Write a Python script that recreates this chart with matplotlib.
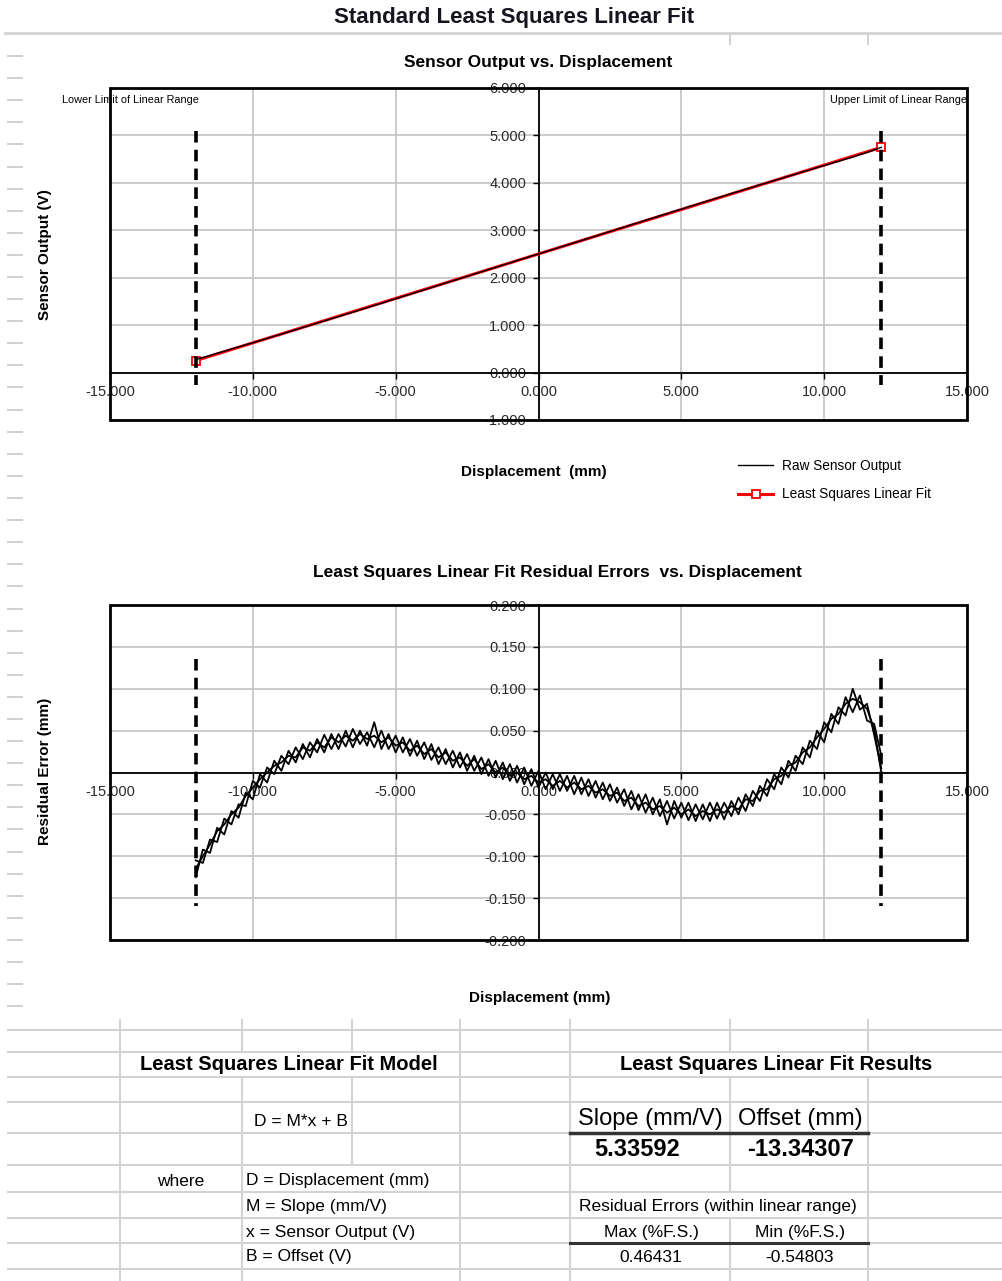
import numpy as np
import matplotlib
matplotlib.use("Agg")
import matplotlib.pyplot as plt
from matplotlib import font_manager
from matplotlib.lines import Line2D
from matplotlib.patches import Rectangle
from matplotlib.ticker import FormatStrFormatter

# ---------------- data ----------------
slope_mm_per_v = 5.33592
offset_mm = -13.34307
resid_max_pct = "0.46431"
resid_min_pct = "-0.54803"
lower_limit_mm = -12.0
upper_limit_mm = 12.0

displacement_mm = np.arange(-12.0, 12.001, 0.25)

residual_sweep_a = [
    -0.105, -0.108, -0.080, -0.083,
    -0.055, -0.062, -0.038, -0.040,
    -0.010, -0.018, 0.006, -0.002,
    0.020, 0.010, 0.030, 0.016,
    0.036, 0.024, 0.045, 0.028,
    0.046, 0.031, 0.052, 0.034,
    0.048, 0.030, 0.050, 0.028,
    0.044, 0.024, 0.040, 0.020,
    0.036, 0.015, 0.030, 0.010,
    0.026, 0.006, 0.022, 0.002,
    0.018, -0.004, 0.014, -0.008,
    0.010, -0.012, 0.006, -0.016,
    0.002, -0.020, -0.002, -0.022,
    -0.004, -0.026, -0.006, -0.028,
    -0.010, -0.032, -0.014, -0.036,
    -0.020, -0.044, -0.026, -0.048,
    -0.030, -0.052, -0.034, -0.055,
    -0.036, -0.057, -0.038, -0.056,
    -0.036, -0.055, -0.036, -0.052,
    -0.030, -0.046, -0.022, -0.034,
    -0.008, -0.020, 0.006, -0.006,
    0.020, 0.010, 0.038, 0.028,
    0.060, 0.048, 0.078, 0.068,
    0.100, 0.075, 0.082, 0.045,
    0.005,
]
residual_sweep_b = [
    -0.125, -0.092, -0.096, -0.066,
    -0.074, -0.046, -0.054, -0.024,
    -0.032, -0.002, -0.012, 0.014,
    0.002, 0.026, 0.012, 0.034,
    0.018, 0.040, 0.024, 0.046,
    0.028, 0.050, 0.030, 0.050,
    0.032, 0.060, 0.028, 0.046,
    0.024, 0.042, 0.020, 0.038,
    0.016, 0.034, 0.010, 0.028,
    0.006, 0.024, 0.002, 0.020,
    -0.002, 0.016, -0.006, 0.012,
    -0.010, 0.008, -0.014, 0.004,
    -0.018, 0.000, -0.020, -0.002,
    -0.022, -0.004, -0.026, -0.008,
    -0.030, -0.012, -0.034, -0.018,
    -0.040, -0.022, -0.045, -0.026,
    -0.050, -0.032, -0.062, -0.034,
    -0.054, -0.036, -0.058, -0.038,
    -0.058, -0.036, -0.056, -0.034,
    -0.050, -0.026, -0.040, -0.016,
    -0.028, -0.002, -0.014, 0.014,
    0.002, 0.030, 0.018, 0.050,
    0.036, 0.070, 0.058, 0.090,
    0.072, 0.092, 0.062, 0.058,
    0.020,
]
residual_sweep_c = [
    -0.115, -0.100, -0.086, -0.070,
    -0.062, -0.050, -0.042, -0.028,
    -0.018, -0.008, 0.000, 0.008,
    0.012, 0.020, 0.018, 0.030,
    0.026, 0.036, 0.030, 0.042,
    0.036, 0.044, 0.038, 0.046,
    0.040, 0.044, 0.036, 0.042,
    0.032, 0.036, 0.026, 0.032,
    0.022, 0.028, 0.018, 0.024,
    0.014, 0.018, 0.008, 0.016,
    0.004, 0.010, 0.000, 0.006,
    -0.004, 0.000, -0.008, -0.004,
    -0.012, -0.008, -0.016, -0.010,
    -0.018, -0.012, -0.020, -0.016,
    -0.024, -0.020, -0.028, -0.024,
    -0.034, -0.030, -0.040, -0.036,
    -0.044, -0.040, -0.048, -0.042,
    -0.050, -0.044, -0.052, -0.046,
    -0.050, -0.044, -0.048, -0.040,
    -0.044, -0.032, -0.034, -0.022,
    -0.020, -0.008, -0.004, 0.008,
    0.012, 0.024, 0.030, 0.042,
    0.052, 0.064, 0.070, 0.082,
    0.088, 0.084, 0.076, 0.052,
    0.000,
]
residual_sweeps = [residual_sweep_a, residual_sweep_b, residual_sweep_c]

x_ticks = [-15, -10, -5, 0, 5, 10, 15]
volt_ticks = [-1, 0, 1, 2, 3, 4, 5, 6]
resid_ticks = [-0.2, -0.15, -0.1, -0.05, 0.0, 0.05, 0.1, 0.15, 0.2]
limit_span_volt = [5.10, -0.27]
limit_span_resid = [0.136, -0.159]

# ---------------- fonts ----------------
names = {f.name for f in font_manager.fontManager.ttflist}
HAS_NARROW = "Liberation Sans Narrow" in names
BASE = ["Liberation Sans", "DejaVu Sans"]
NARROW = (["Liberation Sans Narrow"] + BASE) if HAS_NARROW else BASE
plt.rcParams["font.family"] = BASE
plt.rcParams["axes.unicode_minus"] = False

W, H = 1002, 1281
fig = plt.figure(figsize=(W / 100, H / 100), dpi=100)
fig.patch.set_facecolor("white")


def fx(px):
    return px / W


def fy(py):
    return 1 - py / H


def hline(y, x0, x1, color="#d3d3d3", lw=1.5):
    fig.add_artist(Line2D([fx(x0), fx(x1)], [fy(y), fy(y)], color=color, lw=lw))


def vline(x, y0, y1, color="#d3d3d3", lw=1.5):
    fig.add_artist(Line2D([fx(x), fx(x)], [fy(y0), fy(y1)], color=color, lw=lw))


# ---------------- spreadsheet background ----------------
hline(33, 5, 1002, lw=2)
vline(730, 35, 44)
vline(868, 35, 44)
for yy in np.arange(56, 1010, 22.1):
    hline(yy, 8, 22, color="#d0d0d0", lw=1.4)

# ---------------- titles ----------------
fig.text(fx(514), fy(18), "Standard Least Squares Linear Fit", ha="center", va="center",
         family=NARROW, weight="bold", fontsize=17 if HAS_NARROW else 16, color="#151520")
fig.text(fx(538), fy(63), "Sensor Output vs. Displacement", ha="center", va="center",
         family=NARROW, weight="bold", fontsize=13 if HAS_NARROW else 12.5)
fig.text(fx(557), fy(572), "Least Squares Linear Fit Residual Errors  vs. Displacement",
         ha="center", va="center", family=NARROW, weight="bold",
         fontsize=13 if HAS_NARROW else 12.5)


def style_axes(ax, yticks, ylim):
    ax.set_xlim(-15, 15)
    ax.set_ylim(*ylim)
    ax.set_xticks(x_ticks)
    ax.set_yticks(yticks)
    ax.xaxis.set_major_formatter(FormatStrFormatter("%.3f"))
    ax.yaxis.set_major_formatter(FormatStrFormatter("%.3f"))
    ax.spines["left"].set_position(("data", 0))
    ax.spines["bottom"].set_position(("data", 0))
    ax.spines["top"].set_visible(False)
    ax.spines["right"].set_visible(False)
    for s in ("left", "bottom"):
        ax.spines[s].set_linewidth(1.3)
        ax.spines[s].set_color("black")
        ax.spines[s].set_zorder(3)
    ax.grid(True, color="#c8c8c8", lw=1.3)
    ax.set_axisbelow(True)
    ax.tick_params(direction="out", length=4, width=1, labelsize=10.5,
                   labelcolor="#2a2a2a", pad=5)
    ax.add_patch(Rectangle((0, 0), 1, 1, transform=ax.transAxes, fill=False,
                           lw=2, ec="black", clip_on=False, zorder=6))


# ---------------- chart 1 ----------------
ax1 = fig.add_axes([fx(110), fy(420), (967 - 110) / W, (420 - 88) / H])
style_axes(ax1, volt_ticks, (-1, 6))

disp = np.asarray(displacement_mm)
raw_volt = (disp - offset_mm - np.asarray(residual_sweep_a)) / slope_mm_per_v
fit_x = [lower_limit_mm, upper_limit_mm]
fit_v = [(d - offset_mm) / slope_mm_per_v for d in fit_x]

fit_line, = ax1.plot(fit_x, fit_v, color="red", lw=2.2, marker="s", ms=6,
                     mfc="white", mec="red", mew=1.3, zorder=4, clip_on=False)
raw_line, = ax1.plot(disp, raw_volt, color="black", lw=1.0, zorder=5)
for lim in (lower_limit_mm, upper_limit_mm):
    ax1.plot([lim, lim], limit_span_volt, color="black", lw=2.6,
             dashes=(3.2, 2.0), zorder=4, clip_on=False)

fig.text(fx(62), fy(100), "Lower Limit of Linear Range", ha="left", va="center", fontsize=7.8)
fig.text(fx(830), fy(100), "Upper Limit of Linear Range", ha="left", va="center", fontsize=7.8)
fig.text(fx(45), fy(255), "Sensor Output (V)", rotation=90, ha="center", va="center",
         fontsize=11, weight="bold")
fig.text(fx(534), fy(472), "Displacement  (mm)", ha="center", va="center",
         fontsize=11, weight="bold")

leg = ax1.legend([raw_line, fit_line], ["Raw Sensor Output", "Least Squares Linear Fit"],
                 loc="upper left", bbox_to_anchor=(fx(738), fy(459)),
                 bbox_transform=fig.transFigure, frameon=False, fontsize=9.8,
                 handlelength=2.6, handletextpad=0.6, labelspacing=1.05,
                 borderaxespad=0, borderpad=0)

# ---------------- chart 2 ----------------
ax2 = fig.add_axes([fx(110), fy(940), (967 - 110) / W, (940 - 605) / H])
style_axes(ax2, resid_ticks, (-0.2, 0.2))
for sweep in residual_sweeps:
    ax2.plot(disp, sweep, color="black", lw=1.3, zorder=5)
for lim in (lower_limit_mm, upper_limit_mm):
    ax2.plot([lim, lim], limit_span_resid, color="black", lw=2.6,
             dashes=(3.2, 2.0), zorder=4, clip_on=False)

fig.text(fx(45), fy(771), "Residual Error (mm)", rotation=90, ha="center", va="center",
         fontsize=11, weight="bold")
fig.text(fx(540), fy(998), "Displacement (mm)", ha="center", va="center",
         fontsize=11, weight="bold")

# ---------------- table ----------------
row_lines = [1030, 1052, 1077, 1102, 1133, 1165, 1192, 1218, 1243, 1269]
for yy in row_lines:
    hline(yy, 8, 1002)

TOP, BOT = 1020, 1281
vline(120, TOP, BOT)
for xx, gaps in [(242, [(1052, 1077)]),
                 (460, []),
                 (570, []),
                 (730, [(1052, 1077), (1192, 1218)]),
                 (868, [(1052, 1077)])]:
    y0 = TOP
    for g0, g1 in gaps:
        vline(xx, y0, g0)
        y0 = g1
    vline(xx, y0, BOT)
vline(352, TOP, 1052)
vline(352, 1077, 1165)

hline(1133, 570, 868, color="#333333", lw=2.5)
hline(1243, 570, 868, color="#333333", lw=2.2)

fig.text(fx(289), fy(1064), "Least Squares Linear Fit Model", ha="center", va="center",
         fontsize=14.5, weight="bold")
fig.text(fx(776), fy(1064), "Least Squares Linear Fit Results", ha="center", va="center",
         fontsize=14.5, weight="bold")

fs_cell = 13 if HAS_NARROW else 12.5
fig.text(fx(254), fy(1121), "D = M*x + B", ha="left", va="center", family=NARROW, fontsize=fs_cell)
fig.text(fx(650), fy(1119), "Slope (mm/V)", ha="center", va="center", family=NARROW,
         fontsize=17)
fig.text(fx(800), fy(1119), "Offset (mm)", ha="center", va="center", family=NARROW,
         fontsize=17)
fig.text(fx(637), fy(1150), f"{slope_mm_per_v:.5f}", ha="center", va="center",
         family=NARROW, weight="bold", fontsize=17)
fig.text(fx(800), fy(1150), f"{offset_mm:.5f}", ha="center", va="center",
         family=NARROW, weight="bold", fontsize=17)

fig.text(fx(181), fy(1181), "where", ha="center", va="center", family=NARROW, fontsize=fs_cell)
for yy, txt in [(1181, "D = Displacement (mm)"), (1206, "M = Slope (mm/V)"),
                (1232, "x = Sensor Output (V)"), (1257, "B = Offset (V)")]:
    fig.text(fx(246), fy(yy), txt, ha="left", va="center", family=NARROW, fontsize=fs_cell)

fig.text(fx(718), fy(1206), "Residual Errors (within linear range)", ha="center", va="center",
         family=NARROW, fontsize=fs_cell)
fig.text(fx(651), fy(1232), "Max (%F.S.)", ha="center", va="center", family=NARROW, fontsize=fs_cell)
fig.text(fx(800), fy(1232), "Min (%F.S.)", ha="center", va="center", family=NARROW, fontsize=fs_cell)
fig.text(fx(651), fy(1257), resid_max_pct, ha="center", va="center", family=NARROW, fontsize=fs_cell)
fig.text(fx(800), fy(1257), resid_min_pct, ha="center", va="center", family=NARROW, fontsize=fs_cell)

fig.savefig("out.png", dpi=100, facecolor="white")
